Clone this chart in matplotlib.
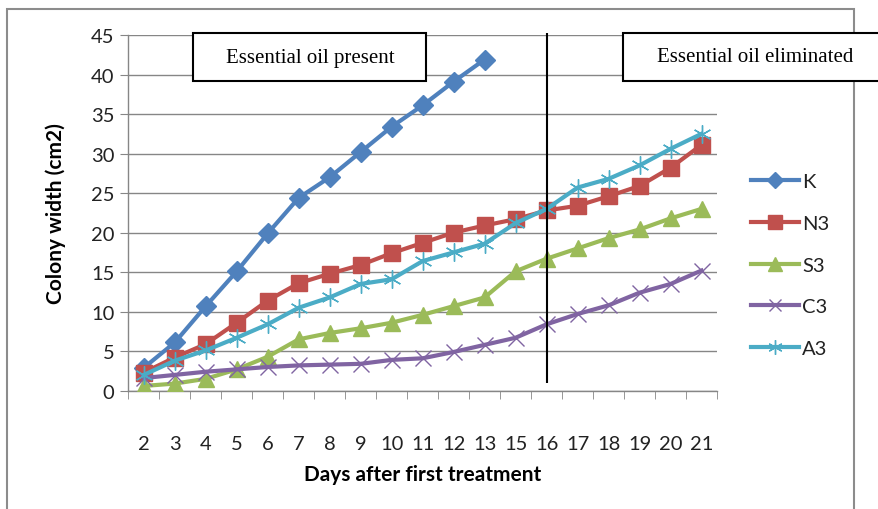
import matplotlib.pyplot as plt
from matplotlib.lines import Line2D
from matplotlib.patches import Rectangle

# Dane
dni = ['2', '3', '4', '5', '6', '7', '8', '9', '10', '11', '12', '13',
       '15', '16', '17', '18', '19', '20', '21']
K = [2.9, 6.1, 10.7, 15.1, 19.9, 24.4, 27.0, 30.2, 33.4, 36.1, 39.1, 41.9]
N3 = [2.3, 4.2, 5.9, 8.6, 11.4, 13.6, 14.8, 15.9, 17.4, 18.7, 20.0, 20.9,
      21.7, 22.8, 23.4, 24.6, 25.9, 28.2, 31.1]
S3 = [0.6, 0.9, 1.5, 2.7, 4.3, 6.5, 7.3, 7.9, 8.6, 9.6, 10.7, 11.8,
      15.1, 16.7, 18.0, 19.3, 20.4, 21.8, 23.0]
C3 = [1.6, 2.0, 2.4, 2.7, 3.0, 3.2, 3.3, 3.4, 3.9, 4.1, 4.9, 5.8,
      6.7, 8.4, 9.7, 10.8, 12.4, 13.5, 15.2]
A3 = [2.0, 3.8, 5.1, 6.7, 8.4, 10.5, 11.8, 13.5, 14.1, 16.4, 17.5, 18.6,
      21.2, 23.0, 25.7, 26.8, 28.5, 30.6, 32.5]

serie = [
    ('K', K, '#4F81BD', 'D', 10),
    ('N3', N3, '#C0504D', 's', 12),
    ('S3', S3, '#9BBB59', '^', 12),
    ('C3', C3, '#8064A2', 'x', 11),
    ('A3', A3, '#4BACC6', (6, 2, 0), 13),
]

font = 'Lato'
W, H = 879, 510
fig = plt.figure(figsize=(W / 100, H / 100), dpi=100)

# Ramka wykresu
fig.add_artist(Rectangle((7 / W, -0.1), (854 - 7) / W, 1.1 - 10 / H,
                         transform=fig.transFigure, fill=False,
                         edgecolor='#8c8c8c', lw=1.5, zorder=0))

ax = fig.add_axes([128.3 / W, 1 - 391.7 / H, 588.7 / W, 355.7 / H])

x = list(range(len(dni)))
for nazwa, wart, kolor, marker, ms in serie:
    ax.plot(x[:len(wart)], wart, color=kolor, lw=3, marker=marker,
            markersize=ms, markeredgecolor=kolor, markeredgewidth=1, zorder=3)

ax.set_xlim(-0.5, len(dni) - 0.5)
ax.set_ylim(0, 45)
ax.set_yticks(range(0, 46, 5))
ax.set_xticks(x)
ax.set_xticklabels(dni)
ax.set_xticks([i - 0.5 for i in range(len(dni) + 1)], minor=True)
ax.tick_params(axis='x', which='major', length=0, pad=32)
ax.tick_params(axis='x', which='minor', length=6, color='#868686', direction='out')
ax.tick_params(axis='y', length=6, color='#868686', direction='out', pad=4)
for lab in ax.get_xticklabels() + ax.get_yticklabels():
    lab.set_fontfamily(font)
    lab.set_fontsize(14.5)
    lab.set_color('#222222')

ax.grid(axis='y', color='#868686', lw=1)
ax.set_axisbelow(True)
for s in ['top', 'right']:
    ax.spines[s].set_visible(False)
for s in ['left', 'bottom']:
    ax.spines[s].set_color('#868686')
    ax.spines[s].set_linewidth(1)

ax.set_xlabel('Days after first treatment', fontfamily=font, fontsize=15,
              fontweight='bold')
ax.xaxis.set_label_coords(0.5, -(465 - 391.7) / 355.7)
ax.set_ylabel('Colony width (cm2)', fontfamily=font, fontsize=15,
              fontweight='bold')
ax.yaxis.set_label_coords(-0.105, 0.5)

# Linia podziału
ax.vlines(13, 1.0, 45.2, color='black', lw=1.5, zorder=4, clip_on=False)

# Pola tekstowe
fig.add_artist(Rectangle((193 / W, 1 - 82 / H), (426 - 193) / W, 48 / H,
                         transform=fig.transFigure, facecolor='white',
                         edgecolor='black', lw=1.5, zorder=5))
fig.text(310 / W, 1 - 58 / H, 'Essential oil present', ha='center', va='center',
         fontfamily='Liberation Serif', fontsize=15, zorder=6)
fig.add_artist(Rectangle((623 / W, 1 - 82 / H), (890 - 623) / W, 48 / H,
                         transform=fig.transFigure, facecolor='white',
                         edgecolor='black', lw=1.5, zorder=5))
fig.text(755 / W, 1 - 58 / H, 'Essential oil eliminated', ha='center', va='center',
         fontfamily='Liberation Serif', fontsize=15, zorder=6)

# Legenda
uchwyty = []
for nazwa, wart, kolor, marker, ms in serie:
    uchwyty.append(Line2D([], [], color=kolor, lw=3, marker=marker,
                          markersize=ms * 0.8, markeredgecolor=kolor))
leg = fig.legend(uchwyty, [s[0] for s in serie], loc='upper left',
                 bbox_to_anchor=(733 / W, 1 - 156 / H), frameon=False,
                 handlelength=2.4, handletextpad=0.12, labelspacing=1.22,
                 prop={'family': font, 'size': 14.5})
for t in leg.get_texts():
    t.set_color('#222222')

fig.savefig('out.png', dpi=100)
